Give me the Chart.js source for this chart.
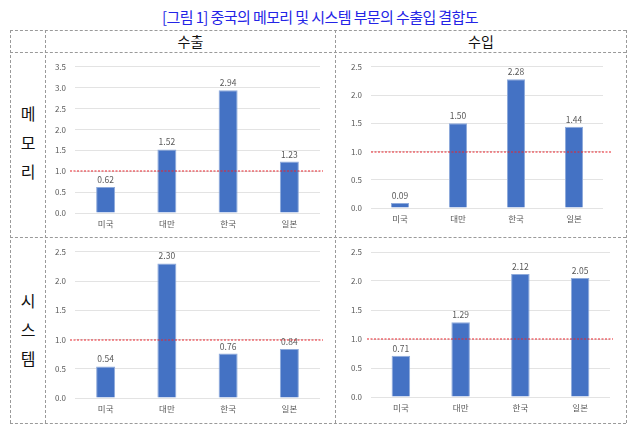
<!DOCTYPE html>
<html>
<head>
<meta charset="utf-8">
<script src="https://cdn.jsdelivr.net/npm/chart.js@4/dist/chart.umd.min.js"></script>
<style>
  html, body { margin:0; padding:0; background:#fff; }
  body { width:640px; height:441px; position:relative; overflow:hidden; font-family:'Noto Sans CJK KR', sans-serif; }
  .hl { position:absolute; height:0; border-top:1px dashed #9a9a9a; }
  .vl { position:absolute; width:0; border-left:1px dashed #9a9a9a; }
  .title { position:absolute; left:0; width:640px; top:6px; text-align:center; font-size:15px; color:#2424e6; letter-spacing:-0.6px; line-height:22px; }
  .hdr { position:absolute; top:31px; height:21px; line-height:21px; text-align:center; font-size:14px; color:#111; }
  .side { position:absolute; left:11px; width:34px; text-align:center; font-size:16px; color:#111; line-height:29px; }
  canvas { position:absolute; }
</style>
</head>
<body>
<div class="title">[그림 1] 중국의 메모리 및 시스템 부문의 수출입 결합도</div>

<div class="hl" style="left:10px; top:30px; width:616px;"></div>
<div class="hl" style="left:10px; top:52px; width:616px;"></div>
<div class="hl" style="left:10px; top:237px; width:616px;"></div>
<div class="hl" style="left:10px; top:423px; width:616px;"></div>
<div class="vl" style="left:10px; top:30px; height:393px;"></div>
<div class="vl" style="left:45px; top:30px; height:393px;"></div>
<div class="vl" style="left:335px; top:30px; height:393px;"></div>
<div class="vl" style="left:626px; top:30px; height:393px;"></div>

<div class="hdr" style="left:46px; width:289px;">수출</div>
<div class="hdr" style="left:336px; width:290px;">수입</div>

<div class="side" style="top:99px;">메<br>모<br>리</div>
<div class="side" style="top:286px;">시<br>스<br>템</div>

<canvas id="c1"></canvas>
<canvas id="c2"></canvas>
<canvas id="c3"></canvas>
<canvas id="c4"></canvas>

<script>
const categories = ['미국', '대만', '한국', '일본'];
const memoryExport = [0.62, 1.52, 2.94, 1.23];
const memoryImport = [0.09, 1.50, 2.28, 1.44];
const systemExport = [0.54, 2.30, 0.76, 0.84];
const systemImport = [0.71, 1.29, 2.12, 2.05];
const referenceValue = 1.0;

Chart.defaults.font.family = "'Noto Sans CJK KR', 'Noto Sans', sans-serif";
Chart.defaults.animation = false;

const valueLabels = {
  id: 'valueLabels',
  afterDatasetsDraw(chart) {
    const ctx = chart.ctx;
    const meta = chart.getDatasetMeta(0);
    const data = chart.data.datasets[0].data;
    ctx.save();
    ctx.font = "8.5px 'Noto Sans CJK KR', sans-serif";
    ctx.fillStyle = '#595959';
    ctx.textAlign = 'center';
    ctx.textBaseline = 'bottom';
    meta.data.forEach((bar, i) => {
      ctx.fillText(data[i].toFixed(2), bar.x, bar.y - 3);
    });
    ctx.restore();
  }
};

const refLine = {
  id: 'refLine',
  afterDatasetsDraw(chart, args, opts) {
    const ctx = chart.ctx;
    const y = Math.round(chart.scales.y.getPixelForValue(opts.value));
    const a = chart.chartArea;
    ctx.save();
    ctx.strokeStyle = '#e8232a';
    ctx.lineWidth = 1.2;
    ctx.setLineDash([2, 1.5]);
    ctx.beginPath();
    ctx.moveTo(Math.round(a.left + opts.extLeft), y);
    ctx.lineTo(Math.round(a.right + opts.extRight), y);
    ctx.stroke();
    ctx.restore();
  }
};

function makePanel(id, values, yMax, cell, area, ext) {
  const cv = document.getElementById(id);
  cv.style.left = cell.x + 'px';
  cv.style.top = cell.y + 'px';
  cv.width = cell.w; cv.height = cell.h;
  cv.style.width = cell.w + 'px'; cv.style.height = cell.h + 'px';
  const yW = area.left - cell.x;
  const padR = cell.x + cell.w - area.right;
  const padT = area.top - cell.y;
  const xH = cell.y + cell.h - area.bottom;
  new Chart(cv, {
    type: 'bar',
    data: {
      labels: categories,
      datasets: [{
        data: values,
        backgroundColor: '#4472C4',
        borderColor: '#8eaadb',
        borderWidth: 1,
        categoryPercentage: 1,
        barPercentage: 0.31
      }]
    },
    options: {
      responsive: false,
      maintainAspectRatio: false,
      layout: { padding: { left: 0, right: padR, top: padT, bottom: 0 } },
      plugins: {
        legend: { display: false },
        tooltip: { enabled: false },
        refLine: { value: referenceValue, extLeft: ext[0], extRight: ext[1] }
      },
      scales: {
        x: {
          grid: { display: false, drawTicks: false },
          border: { display: false },
          ticks: { color: '#595959', font: { size: 8.5 }, padding: 6, maxRotation: 0 },
          afterFit(s) { s.height = xH; }
        },
        y: {
          min: 0, max: yMax,
          grid: { color: '#e3e3e3', drawTicks: false },
          border: { display: false },
          ticks: { stepSize: 0.5, color: '#595959', font: { size: 8 }, padding: 9,
                   callback: v => Number(v).toFixed(1) },
          afterFit(s) { s.width = yW; }
        }
      }
    },
    plugins: [valueLabels, refLine]
  });
}

makePanel('c1', memoryExport, 3.5,
  { x: 46, y: 53, w: 289, h: 184 }, { left: 75, right: 320, top: 62, bottom: 213 }, [-5, 3]);
makePanel('c2', memoryImport, 2.5,
  { x: 336, y: 53, w: 290, h: 184 }, { left: 371, right: 603, top: 66, bottom: 208 }, [0, 9]);
makePanel('c3', systemExport, 2.5,
  { x: 46, y: 238, w: 289, h: 185 }, { left: 75, right: 320, top: 248, bottom: 398 }, [-5, 3]);
makePanel('c4', systemImport, 2.5,
  { x: 336, y: 238, w: 290, h: 185 }, { left: 371, right: 610, top: 252, bottom: 397 }, [-4, 3]);
</script>
</body>
</html>
